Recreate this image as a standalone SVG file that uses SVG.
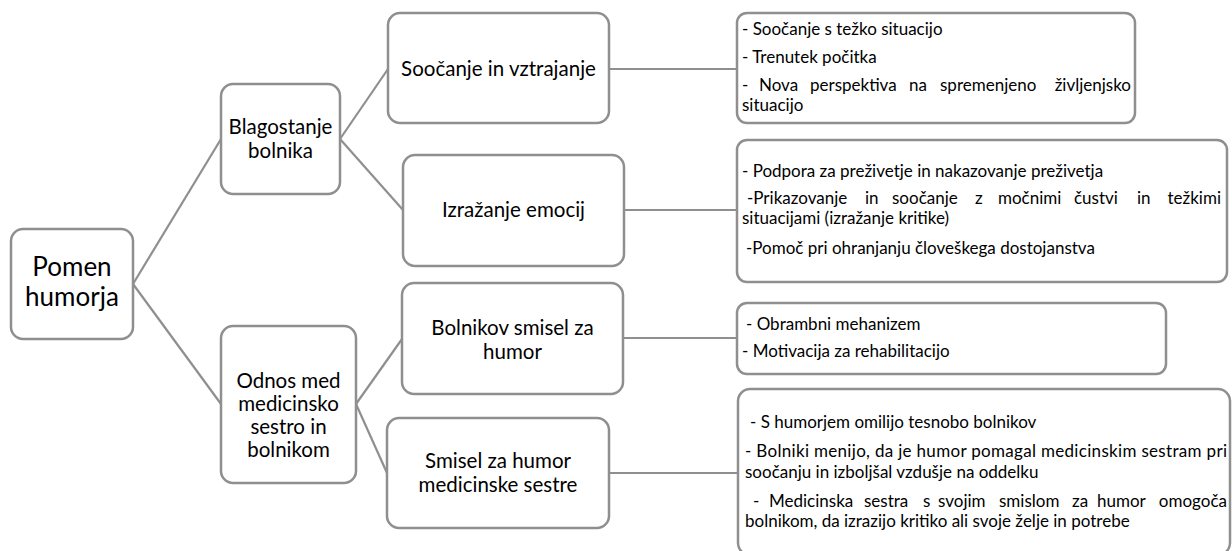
<svg xmlns="http://www.w3.org/2000/svg" width="1232" height="551" viewBox="0 0 1232 551">
<style>
.box{fill:#fff;stroke:#8f8f8f;stroke-width:2.5}
.ln{stroke:#8f8f8f;stroke-width:2.2;fill:none}
text{font-family:Lato,"Open Sans","DejaVu Sans",sans-serif;fill:#000}
.root{font-size:26px;text-anchor:middle}
.lv{font-size:20.5px;text-anchor:middle}
.dt{font-size:17px}
.e{text-anchor:end}
</style>
<rect width="1232" height="551" fill="#fff"/>
<g id="connectors">
<line class="ln" x1="133" y1="284" x2="221" y2="139"/>
<line class="ln" x1="133" y1="284" x2="221" y2="404"/>
<line class="ln" x1="340" y1="139" x2="388" y2="69"/>
<line class="ln" x1="340" y1="139" x2="403" y2="210"/>
<line class="ln" x1="356" y1="404" x2="402" y2="339"/>
<line class="ln" x1="356" y1="404" x2="387" y2="473"/>
<line class="ln" x1="609" y1="69" x2="737" y2="69"/>
<line class="ln" x1="624" y1="210" x2="737" y2="210"/>
<line class="ln" x1="623" y1="338" x2="737" y2="338"/>
<line class="ln" x1="609" y1="473" x2="738" y2="473"/>
</g>
<g id="root">
<rect class="box" x="11" y="229" width="122" height="110" rx="12"/>
<text class="root" x="72" y="276">Pomen</text>
<text class="root" x="72" y="306">humorja</text>
</g>
<g id="blagostanje">
<rect class="box" x="221" y="84" width="119" height="110" rx="12"/>
<text class="lv" x="280.5" y="134">Blagostanje</text>
<text class="lv" x="280.5" y="158">bolnika</text>
</g>
<g id="odnos">
<rect class="box" x="221" y="326" width="135" height="157" rx="12"/>
<text class="lv" x="288.5" y="388">Odnos med</text>
<text class="lv" x="288.5" y="411">medicinsko</text>
<text class="lv" x="288.5" y="434">sestro in</text>
<text class="lv" x="288.5" y="457">bolnikom</text>
</g>
<g id="soocanje">
<rect class="box" x="388" y="13" width="221" height="110" rx="12"/>
<text class="lv" x="498.5" y="76">Soočanje in vztrajanje</text>
</g>
<g id="izrazanje">
<rect class="box" x="403" y="155" width="221" height="111" rx="12"/>
<text class="lv" x="513.5" y="217">Izražanje emocij</text>
</g>
<g id="bolnikov">
<rect class="box" x="402" y="283" width="221" height="111" rx="12"/>
<text class="lv" x="512.5" y="335">Bolnikov smisel za</text>
<text class="lv" x="512.5" y="359">humor</text>
</g>
<g id="smisel">
<rect class="box" x="387" y="418" width="222" height="110" rx="12"/>
<text class="lv" x="498" y="468">Smisel za humor</text>
<text class="lv" x="498" y="492">medicinske sestre</text>
</g>
<g id="detail1">
<rect class="box" x="737" y="13" width="398" height="110" rx="10"/>
<text class="dt" x="742" y="35">- Soočanje s težko situacijo</text>
<text class="dt" x="742" y="63">- Trenutek počitka</text>
<text class="dt" y="91"><tspan x="742">-</tspan><tspan x="759">Nova</tspan><tspan x="810">perspektiva</tspan><tspan x="909">na</tspan><tspan x="940">spremenjeno</tspan><tspan class="e" x="1131">življenjsko</tspan></text>
<text class="dt" x="742" y="111">situacijo</text>
</g>
<g id="detail2">
<rect class="box" x="737" y="140" width="490" height="142" rx="10"/>
<text class="dt" x="742" y="177">- Podpora za preživetje in nakazovanje preživetja</text>
<text class="dt" y="204"><tspan x="747">-Prikazovanje</tspan><tspan x="865">in</tspan><tspan x="892">soočanje</tspan><tspan x="975">z</tspan><tspan x="998">močnimi</tspan><tspan x="1074">čustvi</tspan><tspan x="1137">in</tspan><tspan class="e" x="1221">težkimi</tspan></text>
<text class="dt" x="742" y="224">situacijami (izražanje kritike)</text>
<text class="dt" x="746" y="254">-Pomoč pri ohranjanju človeškega dostojanstva</text>
</g>
<g id="detail3">
<rect class="box" x="737" y="303" width="429" height="71" rx="10"/>
<text class="dt" x="746" y="330">- Obrambni mehanizem</text>
<text class="dt" x="742" y="357">- Motivacija za rehabilitacijo</text>
</g>
<g id="detail4">
<rect class="box" x="738" y="389" width="492" height="166" rx="12"/>
<text class="dt" x="750" y="428">- S humorjem omilijo tesnobo bolnikov</text>
<text class="dt" x="745" y="457" textLength="482" lengthAdjust="spacing">- Bolniki menijo, da je humor pomagal medicinskim sestram pri</text>
<text class="dt" x="745" y="478">soočanju in izboljšal vzdušje na oddelku</text>
<text class="dt" y="507"><tspan x="753">-</tspan><tspan x="769">Medicinska</tspan><tspan x="864">sestra</tspan><tspan x="923">s</tspan><tspan x="938">svojim</tspan><tspan x="999">smislom</tspan><tspan x="1072">za</tspan><tspan x="1097">humor</tspan><tspan class="e" x="1227">omogoča</tspan></text>
<text class="dt" x="745" y="527">bolnikom, da izrazijo kritiko ali svoje želje in potrebe</text>
</g>
</svg>
